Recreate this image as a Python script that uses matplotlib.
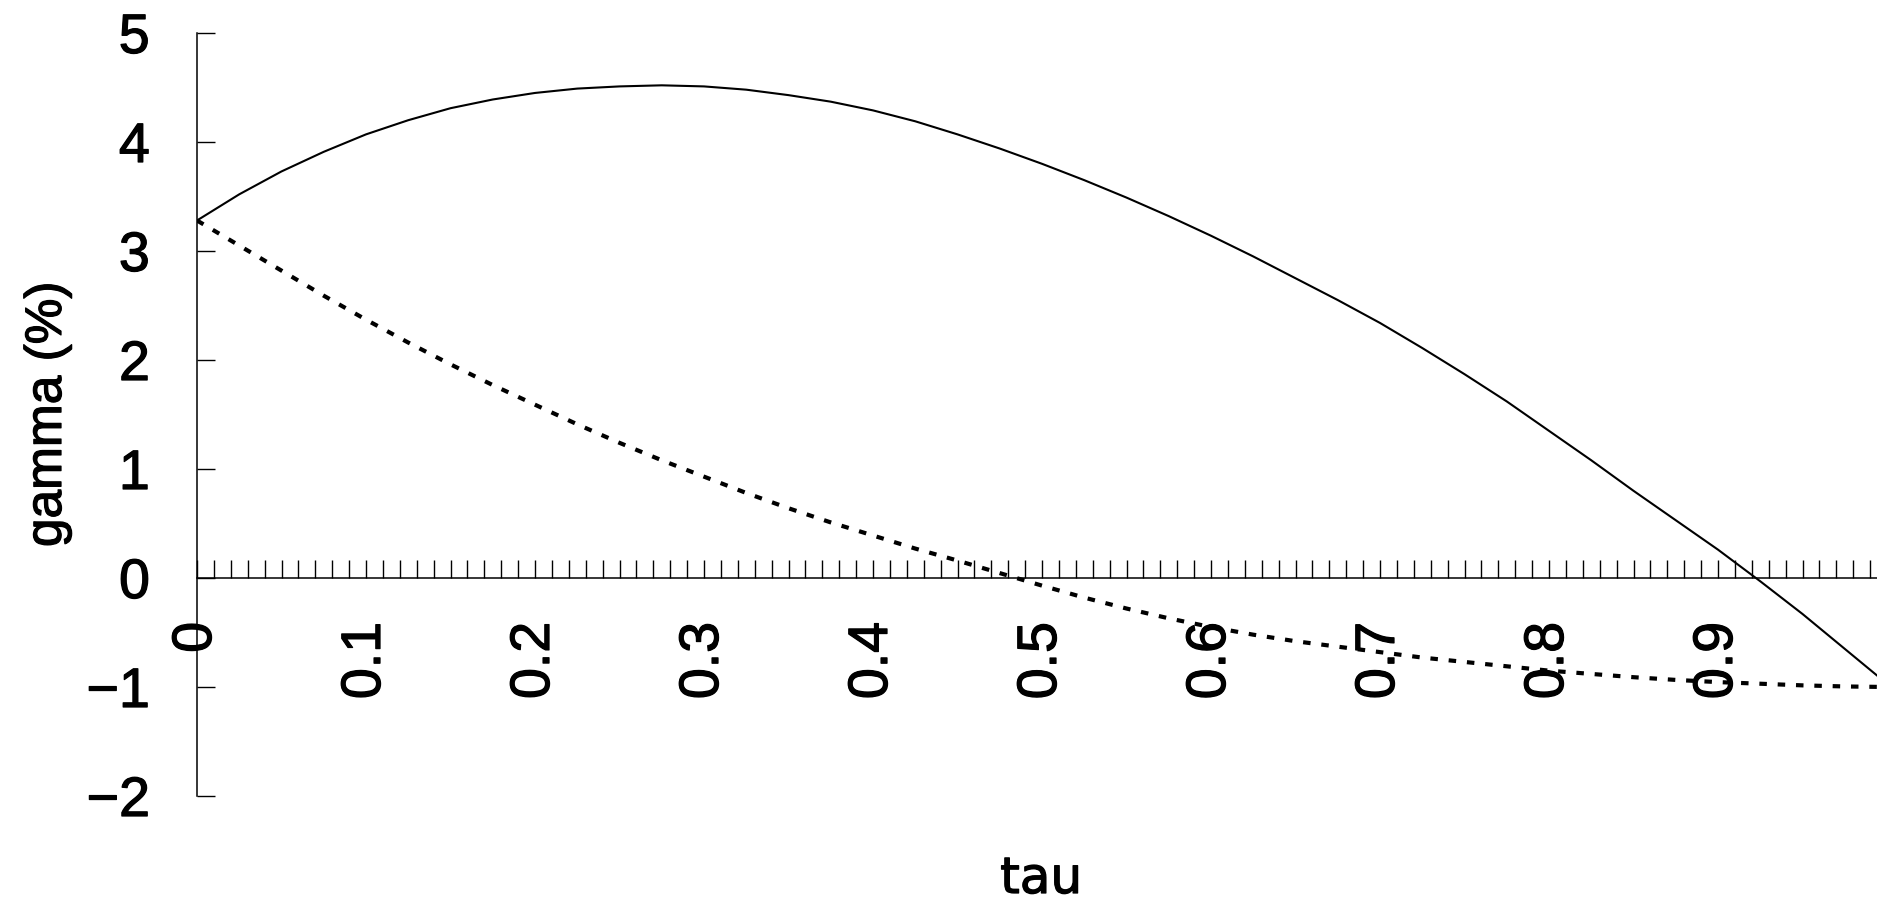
import matplotlib
matplotlib.use("Agg")
import matplotlib.pyplot as plt
import matplotlib.patheffects as pe
from matplotlib.ticker import FixedLocator, MultipleLocator

# ---- data ----
tau = [0.000, 0.025, 0.050, 0.075, 0.100, 0.125, 0.150, 0.175, 0.200, 0.225,
       0.250, 0.275, 0.300, 0.325, 0.350, 0.375, 0.400, 0.425, 0.450, 0.475,
       0.500, 0.525, 0.550, 0.575, 0.600, 0.625, 0.650, 0.675, 0.700, 0.725,
       0.750, 0.775, 0.800, 0.825, 0.850, 0.875, 0.900, 0.925, 0.950, 0.975,
       1.000]
gamma_solid = [3.28, 3.52, 3.73, 3.91, 4.07, 4.20, 4.31, 4.39, 4.45, 4.49,
               4.51, 4.52, 4.51, 4.48, 4.43, 4.37, 4.29, 4.19, 4.07, 3.94,
               3.80, 3.65, 3.49, 3.32, 3.14, 2.95, 2.75, 2.55, 2.34, 2.11,
               1.87, 1.62, 1.35, 1.08, 0.80, 0.53, 0.26, -0.03, -0.33, -0.65,
               -0.97]
gamma_dashed = [3.28, 3.05, 2.82, 2.59, 2.37, 2.16, 1.96, 1.77, 1.59, 1.41,
                1.24, 1.08, 0.93, 0.78, 0.64, 0.51, 0.39, 0.27, 0.16, 0.045,
                -0.07, -0.18, -0.28, -0.37, -0.45, -0.52, -0.58, -0.63, -0.68, -0.73,
                -0.77, -0.81, -0.85, -0.88, -0.91, -0.935, -0.955, -0.97, -0.985, -0.995,
                -1.00]
xtick_values = [0.0, 0.1, 0.2, 0.3, 0.4, 0.5, 0.6, 0.7, 0.8, 0.9]
xtick_labels = ["0", "0.1", "0.2", "0.3", "0.4", "0.5", "0.6", "0.7", "0.8", "0.9"]
ytick_values = [-2, -1, 0, 1, 2, 3, 4, 5]
ytick_labels = ["\u22122", "\u22121", "0", "1", "2", "3", "4", "5"]
x_label = "tau"
y_label = "gamma (%)"

tick_font, tick_size, ylab_size = "Liberation Sans", 40, 37
bold_fx = [pe.withStroke(linewidth=0.9, foreground="black")]

W, H = 1877, 901
fig = plt.figure(figsize=(W / 100, H / 100), dpi=100)
ax = fig.add_axes([197 / W, 105 / H, 1680 / W, 763 / H])

ax.plot(tau, gamma_solid, color="black", lw=1.5)
ax.plot(tau, gamma_dashed, color="black", lw=3.0, linestyle=(0, (1.8, 2.6)))

ax.set_xlim(0, 1680 / 1690)
ax.set_ylim(-2, 5)

for s in ("top", "right"):
    ax.spines[s].set_visible(False)
ax.spines["bottom"].set_position(("data", 0))
ax.spines["bottom"].set_linewidth(1.1)
ax.spines["left"].set_linewidth(1.1)

ax.xaxis.set_major_locator(FixedLocator(xtick_values))
ax.set_xticklabels(xtick_labels, rotation=90, fontfamily=tick_font, fontsize=tick_size)
ax.xaxis.set_minor_locator(MultipleLocator(0.01))
ax.yaxis.set_major_locator(FixedLocator(ytick_values))
ax.set_yticklabels(ytick_labels, fontfamily=tick_font, fontsize=tick_size)
for t in ax.get_xticklabels() + ax.get_yticklabels():
    t.set_path_effects(bold_fx)

ax.tick_params(axis="x", which="both", direction="in", length=13, width=1.0, pad=31.7)
ax.tick_params(axis="y", which="both", direction="in", length=13, width=1.0, pad=34)

ax.set_xlabel(x_label, fontfamily="DejaVu Sans", fontsize=36)
ax.xaxis.label.set_va("baseline")
ax.xaxis.set_label_coords(0.5025, (796 - 893) / 763)
ax.xaxis.label.set_path_effects(bold_fx)

ax.set_ylabel(y_label, fontfamily=tick_font, fontsize=ylab_size)
ax.yaxis.set_label_coords((72 - 197) / 1680, 0.5)
ax.yaxis.label.set_path_effects(bold_fx)

fig.savefig("out.png", dpi=100)
